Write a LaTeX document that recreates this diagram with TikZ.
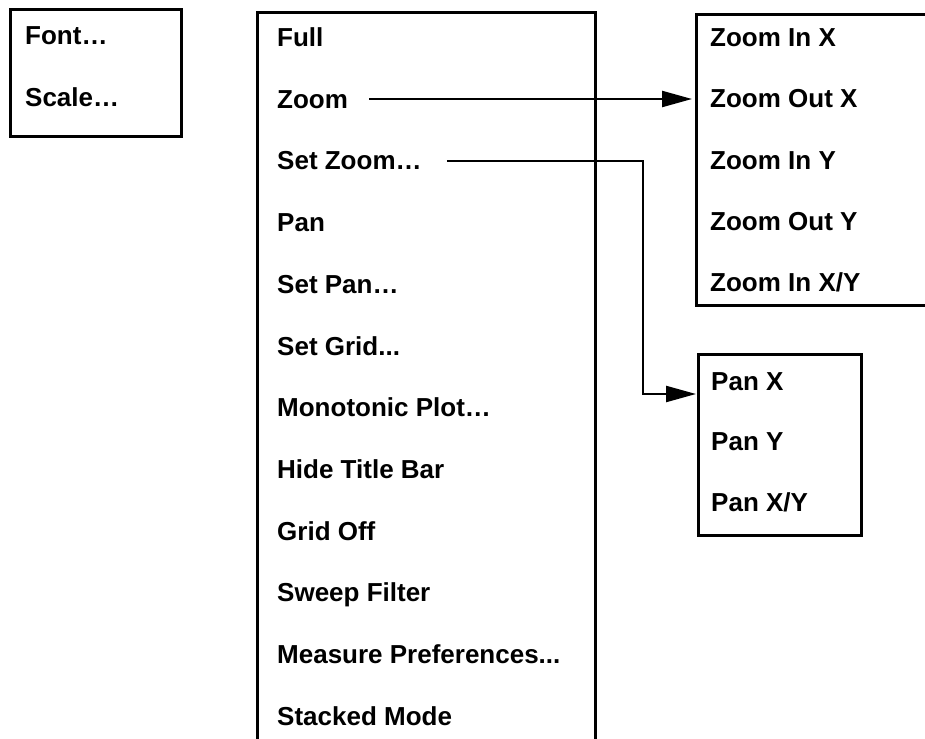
\documentclass[tikz,border=0pt]{standalone}
\usepackage{fontspec}
\setmainfont{Liberation Sans}
\usetikzlibrary{arrows.meta}
\newcommand{\tridots}{...}

\begin{document}
\begin{tikzpicture}[x=1pt, y=-1pt, >={Triangle[length=30pt,width=16pt]},
    item/.style={anchor=west, inner sep=0pt, text height=18.6pt, text depth=0pt,
        font=\fontsize{26}{30}\selectfont\bfseries},
    frame/.style={line width=3pt},
    link/.style={line width=2.3pt}]
    \useasboundingbox (0,0) rectangle (925,738);

    % Left menu
    \draw[frame] (10,10) rectangle (181,137);
    \node[item] (font) at (25,35) {Font…};
    \node[item] (scale) at (25,97) {Scale…};

    % Main menu (open at the bottom)
    \draw[frame] (257,740) -- (257,13) -- (595,13) -- (595,740);
    \foreach \t [count=\i] in {Full, Zoom, Set Zoom…, Pan, Set Pan…, Set Grid\tridots,
        Monotonic Plot…, Hide Title Bar, Grid Off, Sweep Filter,
        Measure Preferences\tridots, Stacked Mode} {
        \node[item] (m\i) at (277, 37.3+61.7*\i-61.7) {\t};
    }

    % Zoom submenu
    \draw[frame] (928,15) -- (696,15) -- (696,305) -- (928,305);
    \coordinate (zoomin) at (692,99);
    \foreach \t [count=\i] in {Zoom In X, Zoom Out X, Zoom In Y, Zoom Out Y, Zoom In X/Y} {
        \node[item] (z\i) at (710, 37.5+61.2*\i-61.2) {\t};
    }

    % Pan submenu
    \draw[frame] (698,354) rectangle (861,535);
    \coordinate (panin) at (696,394);
    \foreach \t [count=\i] in {Pan X, Pan Y, Pan X/Y} {
        \node[item] (p\i) at (711, 381+60.5*\i-60.5) {\t};
    }

    % Connectors
    \coordinate (elbow) at (643,0);
    \draw[link, ->, shorten <=21pt] (m2.east) -- (m2.east -| zoomin);
    \draw[link, ->, shorten <=25pt] (m3.east) -- (m3.east -| elbow) |- (panin);
\end{tikzpicture}
\end{document}
